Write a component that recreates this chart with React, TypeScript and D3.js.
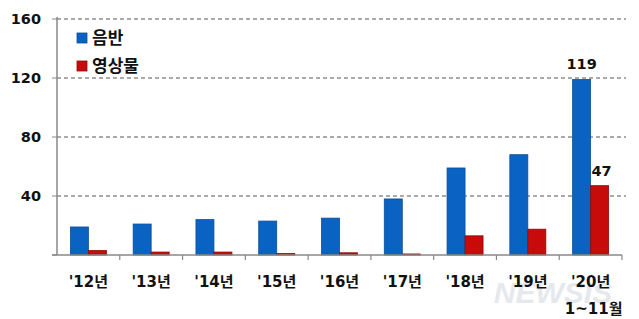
import React from "react";
import * as d3 from "d3";

const categories = ["'12년", "'13년", "'14년", "'15년", "'16년", "'17년", "'18년", "'19년", "'20년"];
const musicValues = [19, 21, 24, 23, 25, 38, 59, 68, 119];
const videoValues = [3, 2, 2, 1, 1.5, 0.7, 13, 17.5, 47];
const seriesNames = ["음반", "영상물"];
const yTicks = [0, 40, 80, 120, 160];
const labeledIndex = 8;
const subLabel = "1~11월";

const W = 639;
const H = 319;
const margin = { left: 57, right: 17, top: 19, bottom: 64 };
const BLUE = "#0a63c2";
const BLUE_EDGE = "#0a4f9a";
const RED = "#c70a0a";
const RED_EDGE = "#8e0a0a";
const FONT = "'DejaVu Sans', 'Noto Sans CJK KR', sans-serif";

export default function App() {
  const x = d3
    .scaleBand<string>()
    .domain(categories)
    .range([margin.left, W - margin.right])
    .paddingInner(0)
    .paddingOuter(0);
  const y = d3.scaleLinear().domain([0, 160]).range([H - margin.bottom, margin.top]);
  const bw = 18;
  const x0 = y(0);

  return (
    <svg
      width={W}
      height={H}
      style={{ position: "absolute", left: 0, top: 0, background: "#fff" }}
      fontFamily={FONT}
    >
      {/* watermark */}
      <text
        x={553}
        y={292}
        textAnchor="middle"
        dominantBaseline="central"
        fontSize={30}
        fontWeight="bold"
        fontStyle="italic"
        fill="#d5dbe2"
        opacity={0.6}
        fontFamily="'Liberation Sans', sans-serif"
      >
        NEWSIS
      </text>
      {/* gridlines */}
      {yTicks.filter((t) => t > 0).map((t) => (
        <line
          key={t}
          x1={margin.left}
          x2={W - margin.right + 4}
          y1={y(t)}
          y2={y(t)}
          stroke="#555"
          strokeWidth={1}
          strokeDasharray="4,3"
        />
      ))}
      {/* y ticks labels */}
      {yTicks.map((t) => (
        <g key={"yl" + t}>
          <line x1={margin.left - 5} x2={margin.left} y1={y(t)} y2={y(t)} stroke="#888" />
          <text
            x={41}
            y={y(t)}
            textAnchor="end"
            dominantBaseline="central"
            fontSize={14.5}
            fontWeight="bold"
            fill="#111"
          >
            {t === 0 ? "" : t}
          </text>
        </g>
      ))}
      {/* bars */}
      {categories.map((c, i) => {
        const cx = (x(c) as number) + x.bandwidth() / 2;
        return (
          <g key={c}>
            <rect
              x={cx - bw}
              y={y(musicValues[i])}
              width={bw}
              height={x0 - y(musicValues[i])}
              fill={BLUE}
              stroke={BLUE_EDGE}
              strokeWidth={0.8}
            />
            <rect
              x={cx}
              y={y(videoValues[i])}
              width={bw}
              height={x0 - y(videoValues[i])}
              fill={RED}
              stroke={RED_EDGE}
              strokeWidth={0.8}
            />
          </g>
        );
      })}
      {/* axes */}
      <line x1={margin.left} x2={margin.left} y1={margin.top - 2} y2={x0} stroke="#888" strokeWidth={1.5} />
      <line x1={margin.left - 5} x2={W - margin.right} y1={x0} y2={x0} stroke="#888" strokeWidth={1.5} />
      {categories.map((c) => (
        <line
          key={"t" + c}
          x1={(x(c) as number) + x.bandwidth()}
          x2={(x(c) as number) + x.bandwidth()}
          y1={x0}
          y2={x0 + 5}
          stroke="#888"
          strokeWidth={1.2}
        />
      ))}
      {/* x labels */}
      {categories.map((c) => (
        <text
          key={"xl" + c}
          x={(x(c) as number) + x.bandwidth() / 2}
          y={282}
          textAnchor="middle"
          dominantBaseline="central"
          fontSize={15}
          fontWeight="bold"
          fill="#111"
        >
          {c}
        </text>
      ))}
      <text
        x={(x(categories[labeledIndex]) as number) + x.bandwidth() / 2 + 3}
        y={309}
        textAnchor="middle"
        dominantBaseline="central"
        fontSize={15}
        fontWeight="bold"
        fill="#111"
      >
        {subLabel}
      </text>
      {/* value labels */}
      <text
        x={(x(categories[labeledIndex]) as number) + x.bandwidth() / 2 - bw / 2}
        y={y(musicValues[labeledIndex]) - 15}
        textAnchor="middle"
        dominantBaseline="central"
        fontSize={14.5}
        fontWeight="bold"
        fill="#111"
      >
        {musicValues[labeledIndex]}
      </text>
      <text
        x={(x(categories[labeledIndex]) as number) + x.bandwidth() / 2 + bw / 2 + 2}
        y={y(videoValues[labeledIndex]) - 15}
        textAnchor="middle"
        dominantBaseline="central"
        fontSize={14.5}
        fontWeight="bold"
        fill="#111"
      >
        {videoValues[labeledIndex]}
      </text>
      {/* legend */}
      {seriesNames.map((s, i) => (
        <g key={s} transform={`translate(77, ${38 + i * 28})`}>
          <rect x={0} y={-5} width={10} height={10} fill={i === 0 ? BLUE : RED} stroke={i === 0 ? BLUE_EDGE : RED_EDGE} strokeWidth={0.8} />
          <text x={15} y={0} dominantBaseline="central" fontSize={17} fontWeight="bold" fill="#111">
            {s}
          </text>
        </g>
      ))}
    </svg>
  );
}
